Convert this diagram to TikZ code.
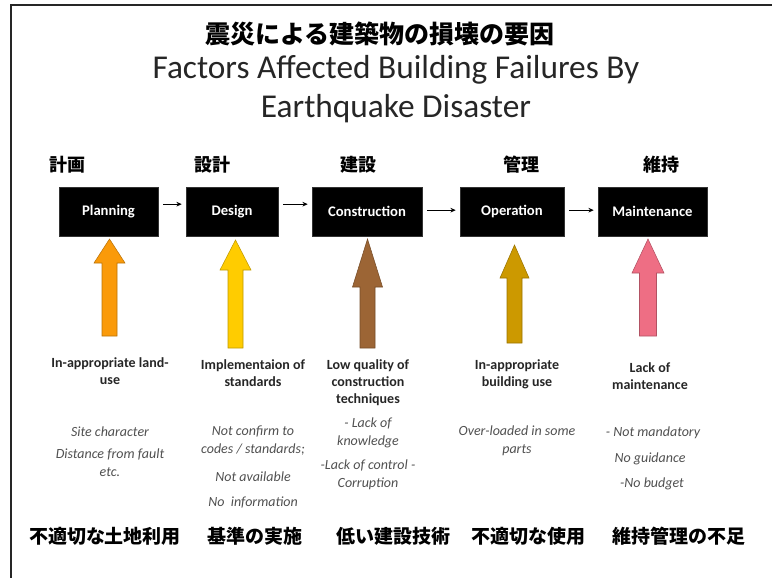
\documentclass[tikz,border=0pt]{standalone}
\usepackage{fontspec}
\setmainfont{Carlito}
\newfontfamily\jp{Noto Sans CJK JP}
\usetikzlibrary{arrows.meta}
\definecolor{cOrange}{HTML}{FA9A0A}
\definecolor{cYellow}{HTML}{FFCC00}
\definecolor{cBrown}{HTML}{9C6535}
\definecolor{cGold}{HTML}{CC9900}
\definecolor{cPink}{HTML}{EE6E84}
\definecolor{cGray}{HTML}{505050}
\newcommand\blockarrow[7]{%
  \draw[fill=#7, draw=#7!75!black, line width=0.4pt]
    (#1,#2) -- ({#1+#5},#3) -- ({#1+#6},#3) -- ({#1+#6},#4) -- ({#1-#6},#4)
    -- ({#1-#6},#3) -- ({#1-#5},#3) -- cycle;}
\tikzset{
  stagebox/.style={fill=black, draw=black!80, inner sep=0pt, text=white,
    font=\fontsize{11}{13}\selectfont\bfseries, minimum height=36.75pt},
  jphead/.style={font=\jp\bfseries\fontsize{13.5}{16}\selectfont, inner sep=0pt},
  jpfoot/.style={font=\jp\bfseries\fontsize{14.25}{17}\selectfont, inner sep=0pt},
  entitle/.style={font=\fontsize{25}{29}\selectfont, inner sep=0pt, text=black!85, anchor=base},
  cause/.style={font=\fontsize{10.5}{12.75}\selectfont\bfseries, align=center, inner sep=0pt, text=black!85},
  detail/.style={font=\fontsize{10.5}{13.5}\selectfont\itshape, align=center, inner sep=0pt, text=cGray},
  flowarrow/.style={-{Stealth[length=4pt,width=3.5pt]}, line width=0.6pt, shorten <=3.75pt, shorten >=3pt}
}
\begin{document}
\begin{tikzpicture}[x=0.75pt, y=-0.75pt]
\useasboundingbox (0,0) rectangle (772,578);
\draw[line width=1.5pt, black!85] (11,578) -- (11,5) -- (772,5);

% titles
\node[font=\jp\bfseries\fontsize{18.75}{22}\selectfont, inner sep=0pt] (tjp) at (380,34) {震災による建築物の損壊の要因};
\node[entitle] (ten1) at (396,78) {Factors Affected Building Failures By};
\node[entitle] (ten2) at (396,117) {Earthquake Disaster};

% stage headers
\node[jphead] (h1) at (68,165) {計画};
\node[jphead] (h2) at (212,165) {設計};
\node[jphead] (h3) at (358,165) {建設};
\node[jphead] (h4) at (521,165) {管理};
\node[jphead] (h5) at (661,165) {維持};

% stage boxes
\node[stagebox, minimum width=74.25pt] (s1) at (108.5,211.5) {Planning};
\node[stagebox, minimum width=69pt] (s2) at (232,211.5) {Design};
\node[stagebox, minimum width=82.5pt] (s3) at (367,211.5) {Construction};
\node[stagebox, minimum width=78pt] (s4) at (512,211.5) {Operation};
\node[stagebox, minimum width=81.75pt] (s5) at (652.5,211.5) {Maintenance};

\draw[flowarrow] ([yshift=5.5pt]s1.east) -- ([yshift=5.5pt]s2.west);
\draw[flowarrow] ([yshift=5.5pt]s2.east) -- ([yshift=5.5pt]s3.west);
\draw[flowarrow] ([yshift=1pt]s3.east) -- ([yshift=1pt]s4.west);
\draw[flowarrow] ([yshift=1pt]s4.east) -- ([yshift=1pt]s5.west);

% block arrows
\blockarrow{109.5}{239}{263}{336}{15.5}{7.5}{cOrange}
\blockarrow{235.5}{240}{270}{348}{15.5}{7.5}{cYellow}
\blockarrow{367.5}{239}{287}{348}{15}{7.5}{cBrown}
\blockarrow{514.5}{245}{278}{343}{14.5}{7.5}{cGold}
\blockarrow{648}{239}{273}{336}{16}{8.5}{cPink}

% causes
\node[cause, anchor=north] (c1) at (110,357) {In-appropriate land-\\use};
\node[cause, anchor=north] (c2) at (253,359) {Implementaion of\\standards};
\node[cause, anchor=north] (c3) at (368,359) {Low quality of\\construction\\techniques};
\node[cause, anchor=north] (c4) at (517,359) {In-appropriate\\building use};
\node[cause, anchor=north] (c5) at (650,362) {Lack of\\maintenance};

% details
\node[detail] (d1a) at (110,432) {Site character};
\node[detail, anchor=north] (d1b) at (110,449) {Distance from fault\\etc.};
\node[detail, anchor=north] (d2a) at (253,426) {Not confirm to\\codes / standards;};
\node[detail] (d2b) at (253,477) {Not available};
\node[detail] (d2c) at (253,502) {No\ \ information};
\node[detail, anchor=north] (d3a) at (368,418) {- Lack of\\knowledge};
\node[detail, anchor=north] (d3b) at (368,460) {-Lack of control -\\Corruption};
\node[detail, anchor=north] (d4a) at (517,426) {Over-loaded in some\\parts};
\node[detail] (d5a) at (653,433) {- Not mandatory};
\node[detail] (d5b) at (650,459) {No guidance};
\node[detail] (d5c) at (652,484) {-No budget};

% bottom labels
\node[jpfoot] (f1) at (105,536) {不適切な土地利用};
\node[jpfoot] (f2) at (255,536) {基準の実施};
\node[jpfoot] (f3) at (393,536) {低い建設技術};
\node[jpfoot] (f4) at (528,536) {不適切な使用};
\node[jpfoot] (f5) at (679,536) {維持管理の不足};
\end{tikzpicture}
\end{document}
